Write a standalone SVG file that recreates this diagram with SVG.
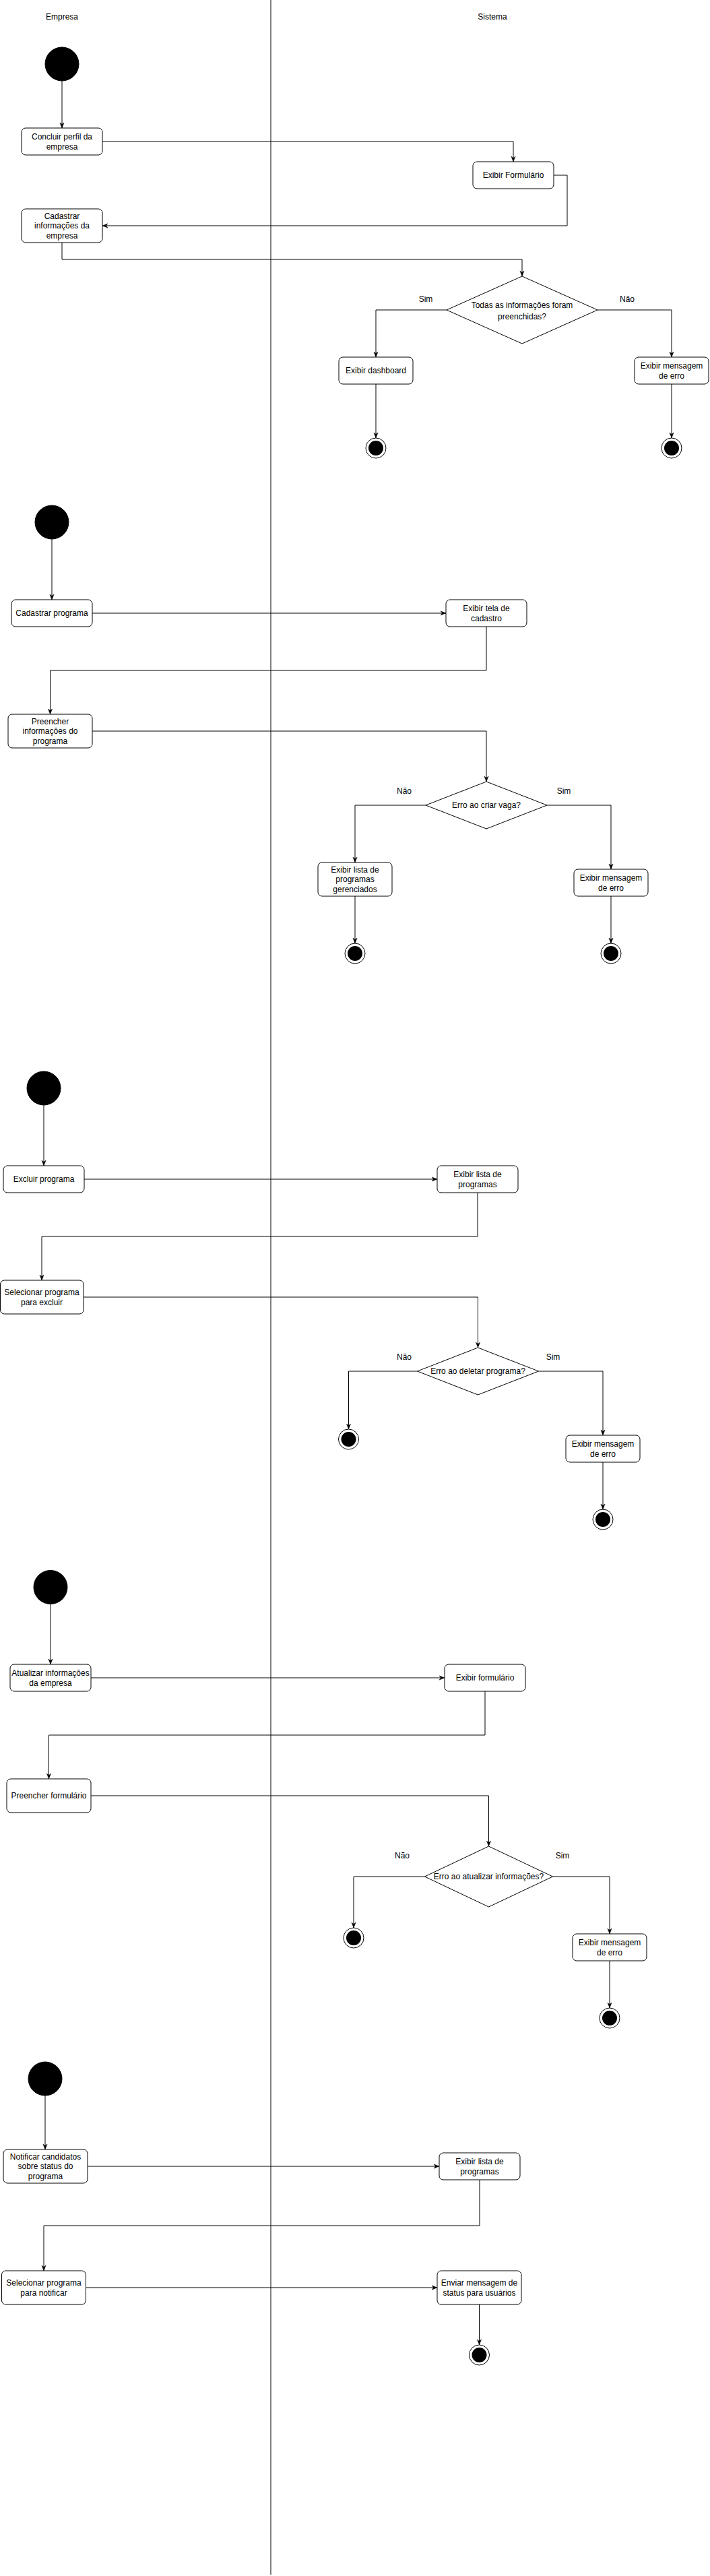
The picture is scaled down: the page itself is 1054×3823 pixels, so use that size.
<svg xmlns="http://www.w3.org/2000/svg" width="1054" height="3823" viewBox="0 0 1054 3823">
<defs>
<style>
text{font-family:"Liberation Sans",Arial,Helvetica,sans-serif;font-size:12px;fill:#000;text-anchor:middle}
.box{fill:#fff;stroke:#000;stroke-width:1}
.dia{fill:#fff;stroke:#000;stroke-width:1}
.start{fill:#000;stroke:#000;stroke-width:1}
.endo{fill:#fff;stroke:#000;stroke-width:1}
.endi{fill:#000}
.edge{fill:none;stroke:#000;stroke-width:1;marker-end:url(#arr)}
.lane{stroke:#000;stroke-width:1}
</style>
<marker id="arr" viewBox="0 0 10 10" refX="10" refY="5" markerWidth="8" markerHeight="8" markerUnits="userSpaceOnUse" orient="auto">
<path d="M0,1 L10,5 L0,9 L3,5 Z" fill="#000" stroke="#000" stroke-width="0.5"/>
</marker>
</defs>
<rect width="1054" height="3823" fill="#fff"/>
<g id="lanes">
<line class="lane" x1="402" y1="0" x2="402" y2="3821"/>
<text x="92" y="29">Empresa</text>
<text x="731" y="29">Sistema</text>
</g>
<g id="connectors">
<path class="edge" d="M92,120 L92,190"/>
<path class="edge" d="M152,210 L762,210 L762,240"/>
<path class="edge" d="M822,260 L842,260 L842,335 L152,335"/>
<path class="edge" d="M92,360 L92,385 L775,385 L775,410"/>
<path class="edge" d="M663,460 L558,460 L558,530"/>
<path class="edge" d="M887,460 L997,460 L997,530"/>
<path class="edge" d="M558,570 L558,650"/>
<path class="edge" d="M997,570 L997,650"/>
<path class="edge" d="M77,800 L77,890"/>
<path class="edge" d="M137,910 L662,910"/>
<path class="edge" d="M722,930 L722,995 L74.5,995 L74.5,1060"/>
<path class="edge" d="M137,1085 L722,1085 L722,1160"/>
<path class="edge" d="M632,1195 L527,1195 L527,1280"/>
<path class="edge" d="M812,1195 L907,1195 L907,1290"/>
<path class="edge" d="M527,1330 L527,1400"/>
<path class="edge" d="M907,1330 L907,1400"/>
<path class="edge" d="M65,1640 L65,1730"/>
<path class="edge" d="M125,1750 L649,1750"/>
<path class="edge" d="M709,1770 L709,1835 L62,1835 L62,1900"/>
<path class="edge" d="M124,1925 L709.5,1925 L709.5,2000"/>
<path class="edge" d="M619.5,2035 L517.5,2035 L517.5,2121"/>
<path class="edge" d="M799.5,2035 L895,2035 L895,2130"/>
<path class="edge" d="M895,2170 L895,2240"/>
<path class="edge" d="M75,2380.5 L75,2470"/>
<path class="edge" d="M135,2490 L660,2490"/>
<path class="edge" d="M720,2510 L720,2575 L72.5,2575 L72.5,2640"/>
<path class="edge" d="M135,2665 L725.5,2665 L725.5,2740"/>
<path class="edge" d="M630.5,2785 L525,2785 L525,2861"/>
<path class="edge" d="M820.5,2785 L905,2785 L905,2870"/>
<path class="edge" d="M905,2910 L905,2980"/>
<path class="edge" d="M67,3110 L67,3190"/>
<path class="edge" d="M130,3215 L652,3215"/>
<path class="edge" d="M712,3235 L712,3303 L65,3303 L65,3370"/>
<path class="edge" d="M127.5,3395 L649,3395"/>
<path class="edge" d="M711.5,3420 L711.5,3480"/>
<text x="632" y="448">Sim</text>
<text x="931" y="448">Não</text>
<text x="600" y="1178">Não</text>
<text x="837" y="1178">Sim</text>
<text x="600" y="2018">Não</text>
<text x="821" y="2018">Sim</text>
<text x="597" y="2758">Não</text>
<text x="835" y="2758">Sim</text>
</g>
<g id="start1"><circle class="start" cx="92" cy="95" r="25"/></g>
<g id="n1"><rect class="box" x="32" y="190" width="120" height="40" rx="6"/><text x="92" y="207">Concluir perfil da</text><text x="92" y="222">empresa</text></g>
<g id="n2"><rect class="box" x="702" y="240" width="120" height="40" rx="6"/><text x="762" y="264">Exibir Formulário</text></g>
<g id="n3"><rect class="box" x="32" y="310" width="120" height="50" rx="6"/><text x="92" y="325">Cadastrar</text><text x="92" y="339">informações da</text><text x="92" y="354">empresa</text></g>
<g id="d1"><polygon class="dia" points="775,410 887,460 775,510 663,460"/><text x="775" y="457">Todas as informações foram</text><text x="775" y="474">preenchidas?</text></g>
<g id="n4"><rect class="box" x="503" y="530" width="110" height="40" rx="6"/><text x="558" y="554">Exibir dashboard</text></g>
<g id="n5"><rect class="box" x="942" y="530" width="110" height="40" rx="6"/><text x="997" y="547">Exibir mensagem</text><text x="997" y="562">de erro</text></g>
<g id="end1"><circle class="endo" cx="558" cy="665" r="15"/><circle class="endi" cx="558" cy="665" r="11"/></g>
<g id="end2"><circle class="endo" cx="997" cy="665" r="15"/><circle class="endi" cx="997" cy="665" r="11"/></g>
<g id="start2"><circle class="start" cx="77" cy="775" r="25"/></g>
<g id="n6"><rect class="box" x="17" y="890" width="120" height="40" rx="6"/><text x="77" y="914">Cadastrar programa</text></g>
<g id="n7"><rect class="box" x="662" y="890" width="120" height="40" rx="6"/><text x="722" y="907">Exibir tela de</text><text x="722" y="922">cadastro</text></g>
<g id="n8"><rect class="box" x="12" y="1060" width="125" height="50" rx="6"/><text x="74.5" y="1075">Preencher</text><text x="74.5" y="1089">informações do</text><text x="74.5" y="1104">programa</text></g>
<g id="d2"><polygon class="dia" points="722,1160 812,1195 722,1230 632,1195"/><text x="722" y="1199">Erro ao criar vaga?</text></g>
<g id="n9"><rect class="box" x="472" y="1280" width="110" height="50" rx="6"/><text x="527" y="1295">Exibir lista de</text><text x="527" y="1309">programas</text><text x="527" y="1324">gerenciados</text></g>
<g id="n10"><rect class="box" x="852" y="1290" width="110" height="40" rx="6"/><text x="907" y="1307">Exibir mensagem</text><text x="907" y="1322">de erro</text></g>
<g id="end3"><circle class="endo" cx="527" cy="1415" r="15"/><circle class="endi" cx="527" cy="1415" r="11"/></g>
<g id="end4"><circle class="endo" cx="907" cy="1415" r="15"/><circle class="endi" cx="907" cy="1415" r="11"/></g>
<g id="start3"><circle class="start" cx="65" cy="1615" r="25"/></g>
<g id="n11"><rect class="box" x="5" y="1730" width="120" height="40" rx="6"/><text x="65" y="1754">Excluir programa</text></g>
<g id="n12"><rect class="box" x="649" y="1730" width="120" height="40" rx="6"/><text x="709" y="1747">Exibir lista de</text><text x="709" y="1762">programas</text></g>
<g id="n13"><rect class="box" x="0.5" y="1900" width="123.5" height="50" rx="6"/><text x="62" y="1922">Selecionar programa</text><text x="62" y="1937">para excluir</text></g>
<g id="d3"><polygon class="dia" points="709.5,2000 799.5,2035 709.5,2070 619.5,2035"/><text x="709.5" y="2039">Erro ao deletar programa?</text></g>
<g id="end5"><circle class="endo" cx="517.5" cy="2136" r="15"/><circle class="endi" cx="517.5" cy="2136" r="11"/></g>
<g id="n14"><rect class="box" x="840" y="2130" width="110" height="40" rx="6"/><text x="895" y="2147">Exibir mensagem</text><text x="895" y="2162">de erro</text></g>
<g id="end6"><circle class="endo" cx="895" cy="2255" r="15"/><circle class="endi" cx="895" cy="2255" r="11"/></g>
<g id="start4"><circle class="start" cx="75" cy="2355.5" r="25"/></g>
<g id="n15"><rect class="box" x="15" y="2470" width="120" height="40" rx="6"/><text x="75" y="2487">Atualizar informações</text><text x="75" y="2502">da empresa</text></g>
<g id="n16"><rect class="box" x="660" y="2470" width="120" height="40" rx="6"/><text x="720" y="2494">Exibir formulário</text></g>
<g id="n17"><rect class="box" x="10" y="2640" width="125" height="50" rx="6"/><text x="72.5" y="2669">Preencher formulário</text></g>
<g id="d4"><polygon class="dia" points="725.5,2740 820.5,2785 725.5,2830 630.5,2785"/><text x="725.5" y="2789">Erro ao atualizar informações?</text></g>
<g id="end7"><circle class="endo" cx="525" cy="2876" r="15"/><circle class="endi" cx="525" cy="2876" r="11"/></g>
<g id="n18"><rect class="box" x="850" y="2870" width="110" height="40" rx="6"/><text x="905" y="2887">Exibir mensagem</text><text x="905" y="2902">de erro</text></g>
<g id="end8"><circle class="endo" cx="905" cy="2995" r="15"/><circle class="endi" cx="905" cy="2995" r="11"/></g>
<g id="start5"><circle class="start" cx="67" cy="3085" r="25"/></g>
<g id="n19"><rect class="box" x="5" y="3190" width="125" height="50" rx="6"/><text x="67.5" y="3205">Notificar candidatos</text><text x="67.5" y="3219">sobre status do</text><text x="67.5" y="3234">programa</text></g>
<g id="n20"><rect class="box" x="652" y="3195" width="120" height="40" rx="6"/><text x="712" y="3212">Exibir lista de</text><text x="712" y="3227">programas</text></g>
<g id="n21"><rect class="box" x="2.5" y="3370" width="125" height="50" rx="6"/><text x="65" y="3392">Selecionar programa</text><text x="65" y="3407">para notificar</text></g>
<g id="n22"><rect class="box" x="649" y="3370" width="125" height="50" rx="6"/><text x="711.5" y="3392">Enviar mensagem de</text><text x="711.5" y="3407">status para usuários</text></g>
<g id="end9"><circle class="endo" cx="711.5" cy="3495" r="15"/><circle class="endi" cx="711.5" cy="3495" r="11"/></g>
</svg>
